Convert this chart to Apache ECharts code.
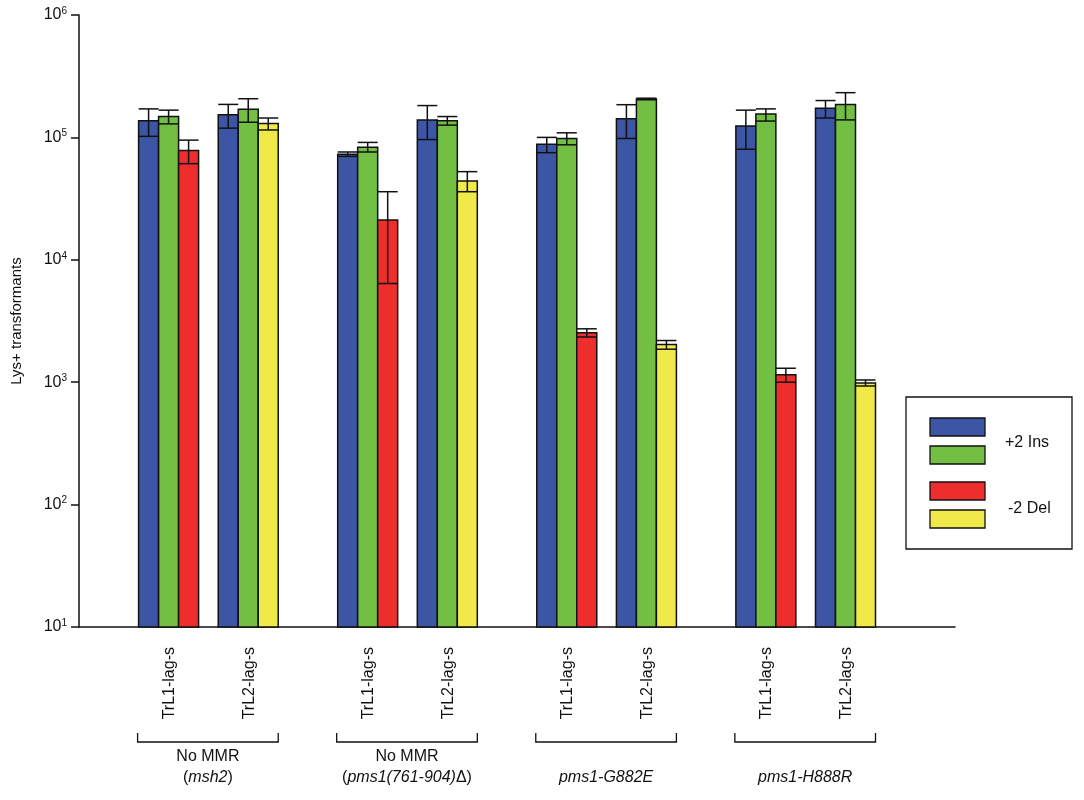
<!DOCTYPE html>
<html>
<head>
<meta charset="utf-8">
<script src="https://cdn.jsdelivr.net/npm/echarts@6/dist/echarts.min.js"></script>
<style>html,body{margin:0;padding:0;background:#fff}#main{width:1084px;height:800px}</style>
</head>
<body>
<div id="main"></div>
<script>
// x positions on a quarter-unit axis, one per construct
const positions = [9, 17, 29, 37, 49, 57, 69, 77];
const constructs = ['TrL1-lag-s', 'TrL2-lag-s', 'TrL1-lag-s', 'TrL2-lag-s', 'TrL1-lag-s', 'TrL2-lag-s', 'TrL1-lag-s', 'TrL2-lag-s'];
// [value, low, high]
const blue = [[1.37e5, 1.02e5, 1.71e5], [1.53e5, 1.19e5, 1.86e5], [7.3e4, 7.0e4, 7.6e4], [1.39e5, 9.6e4, 1.82e5],
              [8.8e4, 7.5e4, 1.0e5], [1.42e5, 9.8e4, 1.85e5], [1.24e5, 8.0e4, 1.67e5], [1.73e5, 1.44e5, 2.0e5]];
const green = [[1.48e5, 1.29e5, 1.67e5], [1.70e5, 1.33e5, 2.07e5], [8.3e4, 7.6e4, 9.1e4], [1.37e5, 1.26e5, 1.48e5],
               [9.8e4, 8.7e4, 1.09e5], [2.06e5, 2.03e5, 2.09e5], [1.55e5, 1.36e5, 1.71e5], [1.86e5, 1.39e5, 2.32e5]];
// red for TrL1, yellow for TrL2
const third = [[7.8e4, 6.1e4, 9.5e4], [1.30e5, 1.15e5, 1.44e5], [2.11e4, 6.4e3, 3.6e4], [4.4e4, 3.6e4, 5.25e4],
               [2.54e3, 2.34e3, 2.73e3], [2.03e3, 1.86e3, 2.19e3], [1.15e3, 1.0e3, 1.30e3], [987, 931, 1043]];
const groups = [
  { from: 9, to: 17, line1: [{t: 'No MMR'}], line2: [{t: '('}, {t: 'msh2', i: true}, {t: ')'}] },
  { from: 29, to: 37, line1: [{t: 'No MMR'}], line2: [{t: '('}, {t: 'pms1(761-904)', i: true}, {t: '\u0394)'}] },
  { from: 49, to: 57, line1: [], line2: [{t: 'pms1-G882E', i: true}] },
  { from: 69, to: 77, line1: [], line2: [{t: 'pms1-H888R', i: true}] }
];

const BLUE = '#3c55a5', GREEN = '#72bf44', RED = '#ee2d2d', YELLOW = '#f0e94a';
const BW = 20;

const barData = [];
positions.forEach((x, i) => {
  barData.push([x, -1].concat(blue[i], [BLUE]));
  barData.push([x, 0].concat(green[i], [GREEN]));
  barData.push([x, 1].concat(third[i], [i % 2 === 0 ? RED : YELLOW]));
});

function renderBar(params, api) {
  const x = api.value(0), off = api.value(1) * BW;
  const top = api.coord([x, api.value(2)]);
  const base = api.coord([x, 10]);
  const lo = api.coord([x, api.value(3)]);
  const hi = api.coord([x, api.value(4)]);
  const cx = top[0] + off;
  const st = { stroke: '#111', lineWidth: 1.5 };
  const cap = BW / 2;
  return {
    type: 'group',
    children: [
      { type: 'rect', shape: { x: cx - BW / 2, y: top[1], width: BW, height: base[1] - top[1] },
        style: { fill: api.value(5), stroke: '#111', lineWidth: 1.5 } },
      { type: 'line', shape: { x1: cx, y1: lo[1], x2: cx, y2: hi[1] }, style: st },
      { type: 'line', shape: { x1: cx - cap, y1: hi[1], x2: cx + cap, y2: hi[1] }, style: st },
      { type: 'line', shape: { x1: cx - cap, y1: lo[1], x2: cx + cap, y2: lo[1] }, style: st }
    ]
  };
}

function renderLabel(params, api) {
  const p = api.coord([api.value(0), 10]);
  return {
    type: 'text', x: p[0] + 1, y: p[1] + 20, rotation: Math.PI / 2,
    style: { text: constructs[params.dataIndex], fill: '#111', font: '16px Arial, "Liberation Sans", sans-serif',
             align: 'right', verticalAlign: 'middle' }
  };
}

function richLine(parts) {
  return parts.map(p => '{' + (p.i ? 'i' : 'n') + '|' + p.t + '}').join('');
}

function renderGroup(params, api) {
  const g = groups[params.dataIndex];
  const a = api.coord([g.from, 10]), b = api.coord([g.to, 10]);
  const x1 = a[0] - 31, x2 = b[0] + 30, y = 742, mid = (x1 + x2) / 2;
  const st = { stroke: '#111', lineWidth: 1.3, fill: null };
  const rich = { n: { fontSize: 16, fontFamily: 'Arial, "Liberation Sans", sans-serif', fill: '#111' },
                 i: { fontSize: 16, fontFamily: 'Arial, "Liberation Sans", sans-serif', fontStyle: 'italic', fill: '#111' } };
  const children = [
    { type: 'polyline', shape: { points: [[x1, y - 9], [x1, y], [x2, y], [x2, y - 9]] }, style: st },
    { type: 'text', x: mid, y: 778, style: { text: richLine(g.line2), rich: rich, align: 'center', verticalAlign: 'middle' } }
  ];
  if (g.line1.length) {
    children.push({ type: 'text', x: mid, y: 757, style: { text: richLine(g.line1), rich: rich, align: 'center', verticalAlign: 'middle' } });
  }
  return { type: 'group', children: children };
}

const chart = echarts.init(document.getElementById('main'));
chart.setOption({
  backgroundColor: '#fff',
  animation: false,
  grid: { left: 79, right: 129, top: 15, bottom: 173 },
  xAxis: {
    type: 'value', min: 0, max: 88,
    axisLine: { show: true, onZero: false, lineStyle: { color: '#111', width: 1.5 } },
    axisTick: { show: false }, axisLabel: { show: false }, splitLine: { show: false }
  },
  yAxis: {
    type: 'log', logBase: 10, min: 10, max: 1e6,
    name: 'Lys+ transformants', nameLocation: 'middle', nameGap: 55,
    nameTextStyle: { fontSize: 15, color: '#111', fontFamily: 'Arial, "Liberation Sans", sans-serif' },
    axisLine: { show: true, lineStyle: { color: '#111', width: 1.5 } },
    axisTick: { show: true, length: 8, inside: false, lineStyle: { color: '#111', width: 1.5 } },
    minorTick: { show: false },
    splitLine: { show: false },
    axisLabel: {
      margin: 12,
      formatter: v => '{b|10}{s|' + Math.round(Math.log10(v)) + '}',
      rich: {
        b: { fontSize: 16, color: '#111', fontFamily: 'Arial, "Liberation Sans", sans-serif' },
        s: { fontSize: 10, color: '#111', verticalAlign: 'top', padding: [0, 0, 8, 0], fontFamily: 'Arial, "Liberation Sans", sans-serif' }
      }
    }
  },
  series: [
    { type: 'custom', renderItem: renderBar, data: barData, encode: { x: 0, y: 2 }, clip: false },
    { type: 'custom', renderItem: renderLabel, data: positions.map(p => [p]), encode: { x: 0 }, clip: false, silent: true },
    { type: 'custom', renderItem: renderGroup, data: groups.map(g => [g.from, g.to]), encode: { x: [0, 1] }, clip: false, silent: true }
  ],
  graphic: [
    { type: 'rect', shape: { x: 906, y: 397, width: 166, height: 152 }, style: { fill: '#fff', stroke: '#111', lineWidth: 1.3 } },
    { type: 'rect', shape: { x: 930, y: 418, width: 55, height: 18 }, style: { fill: BLUE, stroke: '#111', lineWidth: 1.3 } },
    { type: 'rect', shape: { x: 930, y: 446, width: 55, height: 18 }, style: { fill: GREEN, stroke: '#111', lineWidth: 1.3 } },
    { type: 'rect', shape: { x: 930, y: 482, width: 55, height: 18 }, style: { fill: RED, stroke: '#111', lineWidth: 1.3 } },
    { type: 'rect', shape: { x: 930, y: 510, width: 55, height: 18 }, style: { fill: YELLOW, stroke: '#111', lineWidth: 1.3 } },
    { type: 'text', x: 1005, y: 443, style: { text: '+2 Ins', fontSize: 16, fill: '#111', fontFamily: 'Arial, "Liberation Sans", sans-serif', verticalAlign: 'middle' } },
    { type: 'text', x: 1008, y: 509, style: { text: '-2 Del', fontSize: 16, fill: '#111', fontFamily: 'Arial, "Liberation Sans", sans-serif', verticalAlign: 'middle' } }
  ]
});
</script>
</body>
</html>
